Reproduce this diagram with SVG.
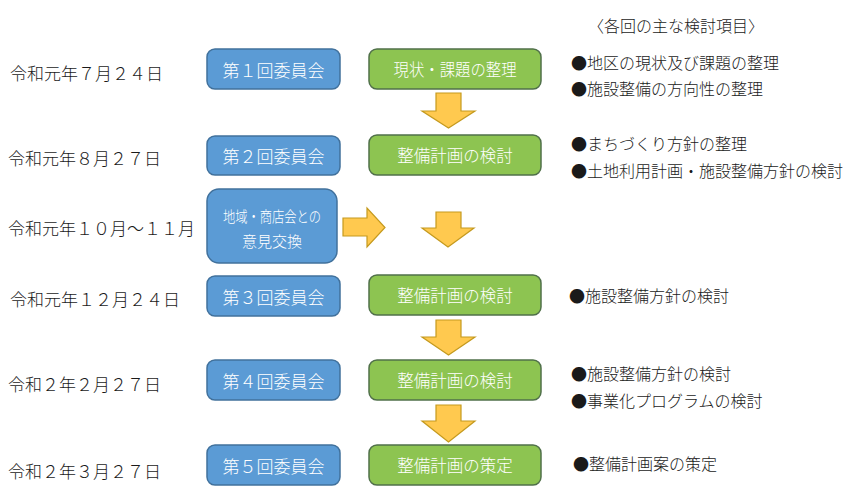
<svg xmlns="http://www.w3.org/2000/svg" width="850" height="493" viewBox="0 0 850 493">
<style>
text{font-family:"Noto Sans CJK JP","Noto Sans",sans-serif;font-weight:300;}
.d{font-size:17px;fill:#1a1a1a;dominant-baseline:central;}
.r{font-size:16px;fill:#1a1a1a;dominant-baseline:central;}
.bt{font-size:17px;fill:#fff;text-anchor:middle;dominant-baseline:central;}
.gt{font-size:16.5px;fill:#fff;text-anchor:middle;dominant-baseline:central;}
.st{font-size:15px;fill:#fff;text-anchor:middle;dominant-baseline:central;}
.blue{fill:#5B9BD5;stroke:#41719C;stroke-width:1.5;}
.green{fill:#8DC451;stroke:#50704A;stroke-width:1.5;}
.arr{fill:#FFC94F;stroke:#C59A1E;stroke-width:1.2;stroke-linejoin:miter;}
</style>
<rect width="850" height="493" fill="#fff"/>

<g id="dates">
<text class="d" x="10" y="72">令和元年７月２４日</text>
<text class="d" x="8" y="157">令和元年８月２７日</text>
<text class="d" x="8" y="227">令和元年１０月～１１月</text>
<text class="d" x="10" y="298">令和元年１２月２４日</text>
<text class="d" x="8" y="383">令和２年２月２７日</text>
<text class="d" x="8" y="470">令和２年３月２７日</text>
</g>

<g id="node-c1"><rect class="blue" x="207" y="49" width="133" height="40" rx="8"/><text class="bt" x="273.5" y="69">第１回委員会</text></g>
<g id="node-c2"><rect class="blue" x="207" y="136" width="133" height="39" rx="8"/><text class="bt" x="273.5" y="155.5">第２回委員会</text></g>
<g id="node-local"><rect class="blue" x="207" y="189" width="130" height="74" rx="12"/><text class="st" x="272" y="215" textLength="98" lengthAdjust="spacingAndGlyphs">地域・商店会との</text><text class="st" x="272" y="240">意見交換</text></g>
<g id="node-c3"><rect class="blue" x="207" y="276" width="133" height="40" rx="8"/><text class="bt" x="273.5" y="296">第３回委員会</text></g>
<g id="node-c4"><rect class="blue" x="207" y="360" width="133" height="40" rx="8"/><text class="bt" x="273.5" y="380">第４回委員会</text></g>
<g id="node-c5"><rect class="blue" x="207" y="445" width="133" height="40" rx="8"/><text class="bt" x="273.5" y="465">第５回委員会</text></g>

<g id="node-g1"><rect class="green" x="369" y="49" width="172" height="40" rx="8"/><text class="gt" x="455" y="69" textLength="123" lengthAdjust="spacingAndGlyphs">現状・課題の整理</text></g>
<g id="node-g2"><rect class="green" x="369" y="135" width="172" height="40" rx="8"/><text class="gt" x="455" y="155">整備計画の検討</text></g>
<g id="node-g3"><rect class="green" x="369" y="275" width="172" height="40" rx="8"/><text class="gt" x="455" y="295">整備計画の検討</text></g>
<g id="node-g4"><rect class="green" x="369" y="360" width="172" height="40" rx="8"/><text class="gt" x="455" y="380">整備計画の検討</text></g>
<g id="node-g5"><rect class="green" x="369" y="445" width="172" height="40" rx="8"/><text class="gt" x="455" y="465">整備計画の策定</text></g>

<g id="connectors">
<path class="arr" d="M436,93 H461 V111 H475 L448.5,128 L422,111 H436 Z"/>
<path class="arr" d="M343,218 H367 V208 L385,227.5 L367,247 V236 H343 Z"/>
<path class="arr" d="M436,212 H461 V228 H474 L448,247 L422,228 H436 Z"/>
<path class="arr" d="M436,320 H461 V337 H475 L448.5,355 L422,337 H436 Z"/>
<path class="arr" d="M436,405 H461 V421 H475 L448.5,442 L422,421 H436 Z"/>
</g>

<g id="topics">
<text class="r" x="588" y="25">〈各回の主な検討項目〉</text>
<text class="r" x="571" y="62">●地区の現状及び課題の整理</text>
<text class="r" x="571" y="88">●施設整備の方向性の整理</text>
<text class="r" x="571" y="143">●まちづくり方針の整理</text>
<text class="r" x="571" y="170">●土地利用計画・施設整備方針の検討</text>
<text class="r" x="569" y="295">●施設整備方針の検討</text>
<text class="r" x="571" y="373">●施設整備方針の検討</text>
<text class="r" x="571" y="400">●事業化プログラムの検討</text>
<text class="r" x="573" y="463">●整備計画案の策定</text>
</g>
</svg>
